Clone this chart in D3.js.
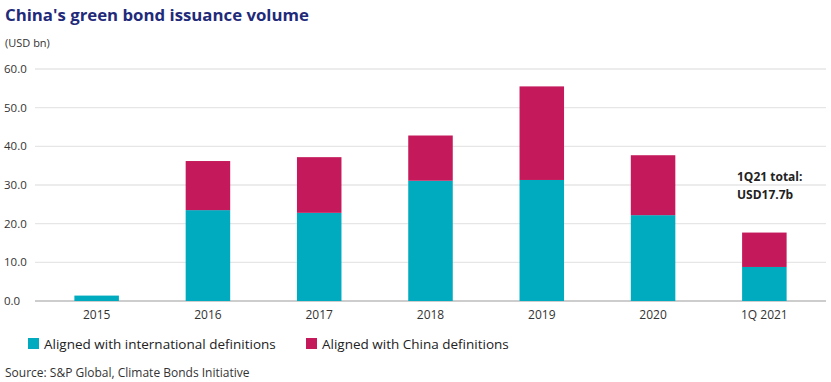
<!DOCTYPE html>
<html><head><meta charset="utf-8">
<script src="https://cdn.jsdelivr.net/npm/d3@7"></script>
<style>body{margin:0;background:#fff}svg{display:block}text{font-family:"Open Sans",sans-serif}</style>
</head><body><svg id="c" width="831" height="382"></svg>
<script>
const categories = ["2015","2016","2017","2018","2019","2020","1Q 2021"];
const intlValues = [1.4, 23.5, 22.8, 31.1, 31.3, 22.2, 8.8];
const chinaValues = [0, 12.7, 14.4, 11.7, 24.2, 15.5, 8.9];
const yTicks = [0,10,20,30,40,50,60];
const seriesNames = ["Aligned with international definitions","Aligned with China definitions"];
const colors = ["#00aabf","#c41a5b"];

const svg = d3.select("#c");
const x = d3.scaleBand().domain(categories).range([41,820]).paddingInner(0.6).paddingOuter(0.3);
const y = d3.scaleLinear().domain([0,60]).range([301,69]);

svg.append("text").attr("x",5).attr("y",21).attr("font-size",16.8).attr("font-weight",700).attr("fill","#1f2a7a").text("China's green bond issuance volume");
svg.append("text").attr("x",5).attr("y",47).attr("font-size",11).attr("fill","#333").text("(USD bn)");

const g = svg.append("g");
yTicks.forEach(t=>{
  g.append("line").attr("x1",35).attr("x2",826).attr("y1",y(t)).attr("y2",y(t))
   .attr("stroke", t===0?"#bdbdbd":"#e6e6e6").attr("stroke-width",1.3);
  g.append("text").attr("x",4).attr("y",y(t)+4).attr("font-size",11.5).attr("fill","#333").text(d3.format(".1f")(t));
});

const stackData = categories.map((c,i)=>({cat:c, intl:intlValues[i], china:chinaValues[i]}));
const stack = d3.stack().keys(["intl","china"])(stackData);
stack.forEach((s,si)=>{
  svg.append("g").selectAll("rect").data(s).join("rect")
    .attr("x",d=>x(d.data.cat)).attr("width",x.bandwidth())
    .attr("y",d=>y(d[1])).attr("height",d=>Math.max(0,y(d[0])-y(d[1])))
    .attr("fill",colors[si]);
});

categories.forEach(c=>{
  svg.append("text").attr("x",x(c)+x.bandwidth()/2).attr("y",319).attr("text-anchor","middle")
    .attr("font-size",12).attr("fill","#333").text(c);
});

svg.append("text").attr("x",737).attr("y",181).attr("font-size",12).attr("font-weight",700).attr("fill","#222").text("1Q21 total:");
svg.append("text").attr("x",737).attr("y",199).attr("font-size",12).attr("font-weight",700).attr("fill","#222").text("USD17.7b");

const legX = [28, 306];
seriesNames.forEach((n,i)=>{
  svg.append("rect").attr("x",legX[i]).attr("y",338).attr("width",11).attr("height",11).attr("fill",colors[i]);
  svg.append("text").attr("x",legX[i]+16).attr("y",349).attr("font-size",13.5).attr("fill","#222").text(n);
});
svg.append("text").attr("x",5).attr("y",377).attr("font-size",12).attr("fill","#333").text("Source: S&P Global, Climate Bonds Initiative");
</script></body></html>
